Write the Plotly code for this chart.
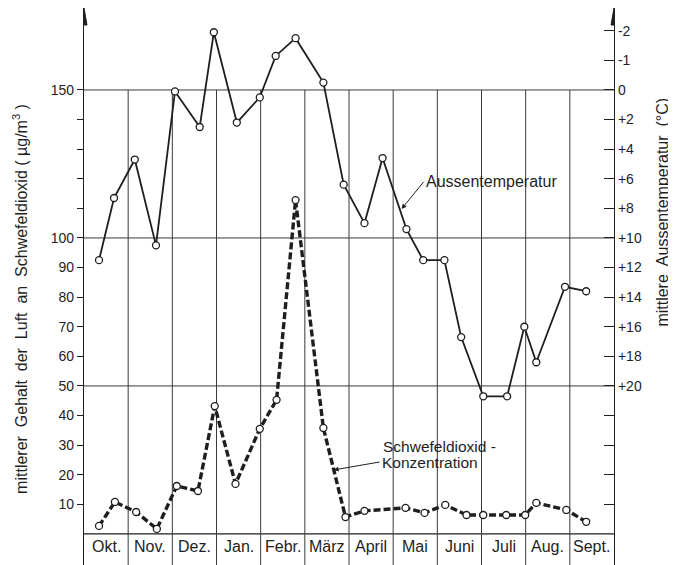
import plotly.graph_objects as go

# ---------------- data ----------------
months = ["Okt.", "Nov.", "Dez.", "Jan.", "Febr.", "März", "April", "Mai", "Juni", "Juli", "Aug.", "Sept."]

# position along the year in months (0 = start of October)
temp_x = [0.34, 0.68, 1.15, 1.63, 2.06, 2.62, 2.94, 3.46, 3.98, 4.34, 4.79, 5.42, 5.88,
          6.35, 6.76, 7.30, 7.68, 8.16, 8.54, 9.04, 9.58, 9.97, 10.24, 10.89, 11.37]
# mittlere Aussentemperatur (right-axis units, axis reversed)
temp_y = [11.5, 7.3, 4.7, 10.5, 0.1, 2.5, -3.9, 2.2, 0.5, -2.3, -3.5, -0.5, 6.4,
          9.0, 4.6, 9.4, 11.5, 11.5, 16.7, 20.7, 20.7, 16.0, 18.4, 13.3, 13.6]

so2_x = [0.34, 0.70, 1.18, 1.65, 2.10, 2.58, 2.96, 3.43, 3.98, 4.36, 4.79, 5.42,
         5.92, 6.35, 7.28, 7.71, 8.18, 8.66, 9.04, 9.56, 9.99, 10.24, 10.92, 11.37]
# Schwefeldioxid-Konzentration (µg/m³)
so2_y = [2.7, 10.8, 7.4, 1.7, 16.2, 14.5, 43.2, 16.9, 35.5, 45.3, 112.8, 35.8,
         5.7, 7.8, 8.8, 7.1, 9.8, 6.4, 6.4, 6.4, 6.4, 10.5, 8.1, 4.1]

left_tickvals = [10, 20, 30, 40, 50, 60, 70, 80, 90, 100, 150]
left_ticktext = ["10", "20", "30", "40", "50", "60", "70", "80", "90", "100", "150"]
left_minor = [110, 120, 130, 140]

right_tickvals = [-4, -2, 0, 2, 4, 6, 8, 10, 12, 14, 16, 18, 20]
right_ticktext = ["-2", "-1", "0", "+2", "+4", "+6", "+8", "+10", "+12", "+14", "+16", "+18", "+20"]
right_minor = [22, 24, 26, 28]

grid_levels = [50, 100, 150]

# ---------------- styling ----------------
INK = "#1e1e1e"
GRID = "#3a3a3a"
FONT = "Liberation Sans, Arial, sans-serif"

Y_RANGE = [-10.5, 177.7]
Y2_RANGE = [(150 - Y_RANGE[0]) / 5, (150 - Y_RANGE[1]) / 5]
ARROW_BASE = Y_RANGE[1] - 17 / 2.96

fig = go.Figure()

fig.add_trace(go.Scatter(
    x=temp_x, y=temp_y, yaxis="y2", mode="lines+markers",
    line=dict(color=INK, width=1.8),
    marker=dict(symbol="circle", size=7, color="white", line=dict(color=INK, width=1.3)),
    showlegend=False, cliponaxis=False,
))
fig.add_trace(go.Scatter(
    x=so2_x, y=so2_y, mode="lines+markers",
    line=dict(color=INK, width=3.4, dash="7px,3px"),
    marker=dict(symbol="circle", size=7, color="white", line=dict(color=INK, width=1.3)),
    showlegend=False, cliponaxis=False,
))

shapes = []
for g in grid_levels:
    shapes.append(dict(type="line", xref="x", yref="y", x0=0, x1=12, y0=g, y1=g,
                       line=dict(color=GRID, width=1), layer="below"))
shapes.append(dict(type="line", xref="x", yref="y", x0=0, x1=12, y0=0, y1=0,
                   line=dict(color=INK, width=1.3), layer="below"))
for i in range(1, len(months)):
    shapes.append(dict(type="line", xref="x", yref="y", x0=i, x1=i, y0=Y_RANGE[0], y1=150,
                       line=dict(color=GRID, width=1), layer="below"))
for xa in (0, 12):
    shapes.append(dict(type="path", xref="x", yref="y", xsizemode="pixel", xanchor=xa,
                       path=f"M-3,{ARROW_BASE} L0,{Y_RANGE[1]} L3,{ARROW_BASE} Z",
                       fillcolor=INK, line=dict(color=INK, width=1)))

annotations = []
for i, m in enumerate(months):
    annotations.append(dict(x=i + 0.5, y=-4.2, xref="x", yref="y", text=m, showarrow=False,
                            font=dict(family=FONT, size=16, color=INK),
                            xanchor="center", yanchor="middle"))

annotations.append(dict(x=7.19, y=109.8, xref="x", yref="y", text="Aussentemperatur",
                        showarrow=True, ax=22, ay=-27, xanchor="left", yanchor="middle",
                        arrowhead=2, arrowsize=1, arrowwidth=1, arrowcolor=INK, standoff=0,
                        font=dict(family=FONT, size=16, color=INK)))
annotations.append(dict(x=6.72, y=29.7, xref="x", yref="y", text="Schwefeldioxid -",
                        showarrow=False, xanchor="left", yanchor="middle",
                        font=dict(family=FONT, size=15.5, color=INK)))
annotations.append(dict(x=5.65, y=21.6, xref="x", yref="y", text="Konzentration",
                        showarrow=True, ax=46, ay=-8, xanchor="left", yanchor="middle",
                        arrowhead=2, arrowsize=1, arrowwidth=1, arrowcolor=INK, standoff=0,
                        font=dict(family=FONT, size=15.5, color=INK)))

annotations.append(dict(x=-0.1205, y=0.478, xref="paper", yref="paper",
                        text="mittlerer  Gehalt  der  Luft  an  Schwefeldioxid ( µg/m<sup>3</sup> )",
                        textangle=-90, showarrow=False, xanchor="center", yanchor="middle",
                        font=dict(family=FONT, size=16, color=INK)))
annotations.append(dict(x=1.092, y=0.634, xref="paper", yref="paper",
                        text="mittlere  Aussentemperatur  (°C)",
                        textangle=-90, showarrow=False, xanchor="center", yanchor="middle",
                        font=dict(family=FONT, size=16, color=INK)))

# page body has an 8px default margin; figure sized to fill the visible window
fig.update_layout(
    width=668, height=557,
    margin=dict(l=76, r=62, t=0, b=0),
    paper_bgcolor="white", plot_bgcolor="white",
    font=dict(family=FONT, color=INK),
    xaxis=dict(range=[0, 12], showgrid=False, zeroline=False, showline=False,
               showticklabels=False, ticks=""),
    yaxis=dict(range=Y_RANGE, showgrid=False, zeroline=False, showline=True,
               linecolor=INK, linewidth=1.3, ticks="outside", ticklen=6, tickwidth=1,
               tickcolor=INK, tickvals=left_tickvals, ticktext=left_ticktext,
               tickfont=dict(family=FONT, size=14, color=INK),
               minor=dict(tickvals=left_minor, ticks="outside", ticklen=6, tickwidth=1,
                          tickcolor=INK, showgrid=False)),
    yaxis2=dict(range=Y2_RANGE, overlaying="y", side="right", showgrid=False,
                zeroline=False, showline=True, linecolor=INK, linewidth=1.3,
                ticks="inside", ticklen=10, tickwidth=1, tickcolor=INK,
                tickvals=right_tickvals, ticktext=right_ticktext,
                tickfont=dict(family=FONT, size=14, color=INK),
                minor=dict(tickvals=right_minor, ticks="inside", ticklen=10, tickwidth=1,
                           tickcolor=INK, showgrid=False)),
    shapes=shapes,
    annotations=annotations,
)

fig.write_html("out.html")
